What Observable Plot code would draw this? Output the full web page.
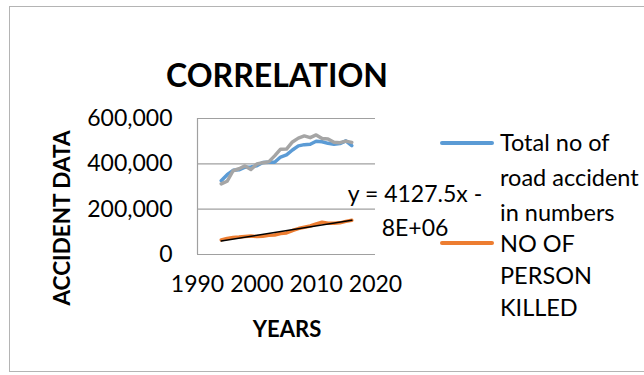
<!DOCTYPE html>
<html>
<head>
<meta charset="utf-8">
<script src="https://cdn.jsdelivr.net/npm/d3@7"></script>
<script src="https://cdn.jsdelivr.net/npm/@observablehq/plot@0.6"></script>
<style>
  html, body { margin: 0; padding: 0; background: #fff; overflow: hidden; }
  #wrap { position: relative; width: 644px; height: 375px; overflow: hidden; font-family: Lato, "Liberation Sans", sans-serif; color: #000; }
  #frame { position: absolute; left: 9px; top: 6px; width: 900px; height: 366px; border: 1px solid #b4b4b4; border-right: none; box-sizing: border-box; }
  #title { position: absolute; left: 0; width: 554px; top: 53px; text-align: center; font-weight: bold; font-size: 32px; line-height: 44px; }
  #ytitle { position: absolute; left: 61px; top: 218px; transform: translate(-50%, -50%) rotate(-90deg); white-space: nowrap; font-weight: bold; font-size: 22.5px; }
  #xtitle { position: absolute; left: 287px; top: 328px; transform: translate(-50%, -50%); white-space: nowrap; font-weight: bold; font-size: 22px; }
  #eq { position: absolute; left: 415px; top: 176px; transform: translateX(-50%); text-align: center; white-space: nowrap; font-size: 23px; line-height: 34px; }
  .leg { position: absolute; left: 500px; white-space: nowrap; font-size: 23.5px; }
  .sw { position: absolute; left: 440px; width: 54px; height: 4px; border-radius: 2px; }
  svg.plot { position: absolute; left: 0; top: 0; }
</style>
</head>
<body>
<div id="wrap">
  <div id="frame"></div>
  <div id="chart"></div>
  <div id="title">CORRELATION</div>
  <div id="ytitle">ACCIDENT DATA</div>
  <div id="xtitle">YEARS</div>
  <div id="eq">y = 4127.5x -<br>8E+06</div>
  <div class="sw" style="top:141px;background:#5b9bd5"></div>
  <div class="leg" style="top:125px;line-height:35px">Total no of<br>road accident<br>in numbers</div>
  <div class="sw" style="top:241px;background:#ed7d31"></div>
  <div class="leg" style="top:227px;line-height:32px">NO OF<br>PERSON<br>KILLED</div>
</div>
<script>
const years = [1994,1995,1996,1997,1998,1999,2000,2001,2002,2003,2004,2005,2006,2007,2008,2009,2010,2011,2012,2013,2014,2015,2016];
const totalAccidents = [325864,351999,371204,373671,385018,386456,391449,405637,407497,406726,429910,439255,460920,479216,484704,486384,499628,497686,490383,486476,489400,501423,480652];
const personsInjured = [311500,323200,369502,378361,390674,375051,399265,405216,408711,435122,464521,465282,496481,513340,523193,515458,527512,511394,509667,494893,493474,500279,494624];
const personsKilled = [64463,70781,74665,76977,79919,81966,78911,80888,84674,85998,92618,94968,105749,114444,119860,125660,134513,142485,138258,137572,139671,146133,150785];
const yTicks = [0,200000,400000,600000];
const xTicks = [1990,2000,2010,2020];

const acc = years.map((y,i) => ({year: y, value: totalAccidents[i]}));
const inj = years.map((y,i) => ({year: y, value: personsInjured[i]}));
const kil = years.map((y,i) => ({year: y, value: personsKilled[i]}));

const chart = Plot.plot({
  width: 644,
  height: 375,
  marginLeft: 197,
  marginRight: 269,
  marginTop: 118,
  marginBottom: 121,
  style: {fontFamily: "Lato, 'Liberation Sans', sans-serif", fontSize: "23px", color: "#000", background: "transparent"},
  x: {domain: [1990, 2020], ticks: xTicks, tickFormat: d3.format("d"), tickSize: 0, tickPadding: 21, label: null},
  y: {domain: [0, 600000], ticks: yTicks, tickFormat: d3.format(","), tickSize: 0, tickPadding: 25, label: null},
  marks: [
    Plot.ruleY(yTicks, {stroke: "#a0a0a0", strokeWidth: 1.2}),
    Plot.ruleX([1990], {y1: 0, y2: 600000, stroke: "#a0a0a0", strokeWidth: 1.2}),
    Plot.line(acc, {x: "year", y: "value", stroke: "#5b9bd5", strokeWidth: 3.5}),
    Plot.line(inj, {x: "year", y: "value", stroke: "#a5a5a5", strokeWidth: 3.5}),
    Plot.line(kil, {x: "year", y: "value", stroke: "#ed7d31", strokeWidth: 3.5}),
    Plot.linearRegressionY(kil, {x: "year", y: "value", stroke: "#000", strokeWidth: 1.5, ci: 0})
  ]
});
chart.classList.add("plot");
chart.querySelectorAll("text").forEach(t => t.setAttribute("fill", "#000"));
document.getElementById("chart").appendChild(chart);
</script>
</body>
</html>
